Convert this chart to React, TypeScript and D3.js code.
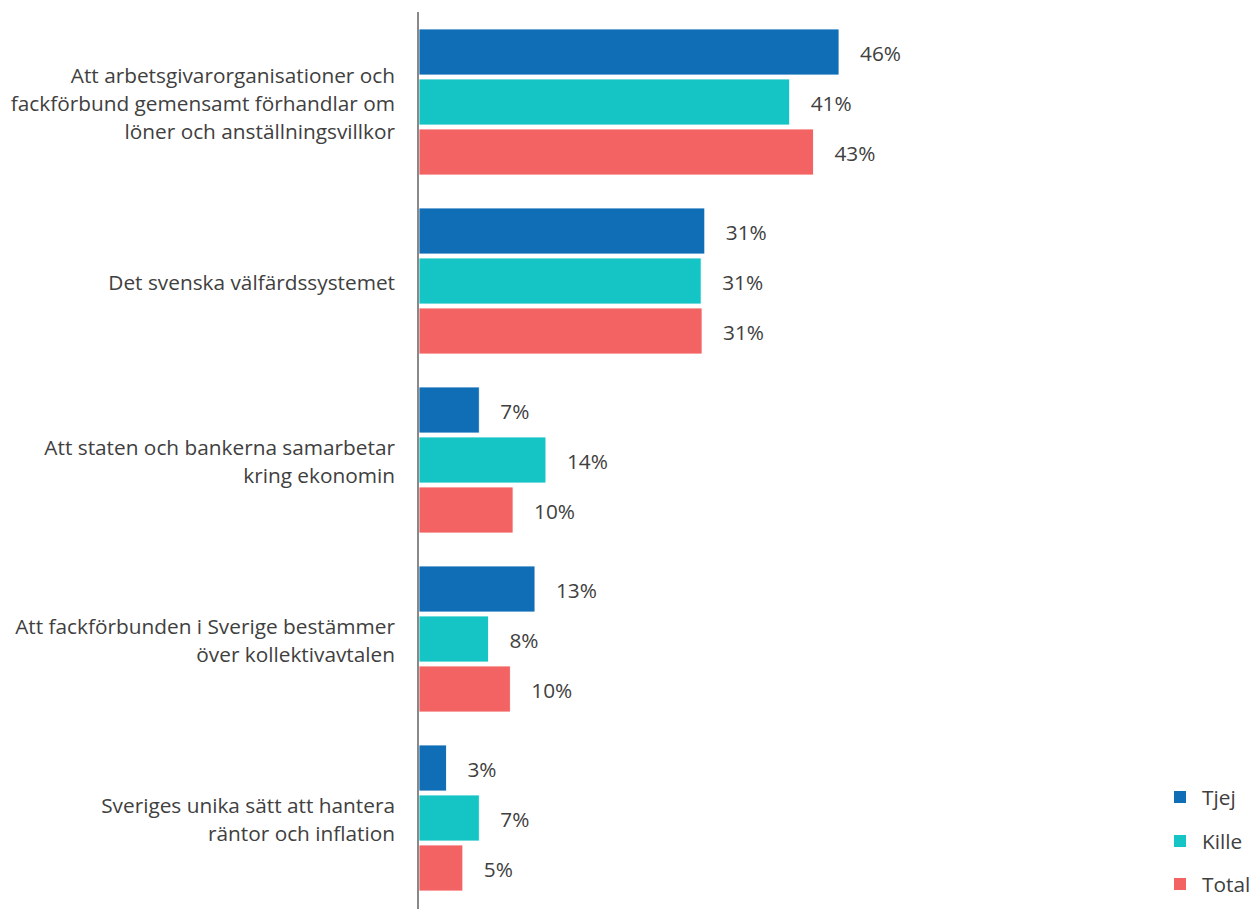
import React from "react";
import * as d3 from "d3";

const categories = [
  ["Att arbetsgivarorganisationer och", "fackförbund gemensamt förhandlar om", "löner och anställningsvillkor"],
  ["Det svenska välfärdssystemet"],
  ["Att staten och bankerna samarbetar", "kring ekonomin"],
  ["Att fackförbunden i Sverige bestämmer", "över kollektivavtalen"],
  ["Sveriges unika sätt att hantera", "räntor och inflation"],
];
const seriesNames = ["Tjej", "Kille", "Total"];
const tjej = [46.0, 31.3, 6.6, 12.7, 3.0];
const kille = [40.6, 30.9, 13.9, 7.6, 6.6];
const total = [43.2, 31.0, 10.3, 10.0, 4.8];
const colors = ["#106EB7", "#15C5C5", "#F46363"];

const W = 1253;
const H = 909;
const font = "'Open Sans', sans-serif";
const fs = 20.8;
const textColor = "#404040";

export default function App() {
  const series = [tjej, kille, total];
  const x0 = 419;
  const x = d3.scaleLinear().domain([0, 46]).range([x0, 839]);
  const y = d3
    .scaleBand<number>()
    .domain(categories.map((_, i) => i))
    .range([12.5, 907.5])
    .paddingInner(33 / 179)
    .paddingOuter(16.5 / 179);
  const yi = d3
    .scaleBand<number>()
    .domain([0, 1, 2])
    .range([0, y.bandwidth()])
    .paddingInner(0.08);
  const fmt = (v: number) => `${Math.round(v)}%`;
  const lineH = 28;
  return (
    <svg width={W} height={H} style={{ position: "absolute", left: 0, top: 0 }}>
      <rect width={W} height={H} fill="#fff" />
      {categories.map((lines, ci) => {
        const cy = (y(ci) as number) + y.bandwidth() / 2;
        return (
          <g key={ci}>
            {lines.map((ln, li) => (
              <text
                key={li}
                x={395}
                y={cy + 0.5 + (li - (lines.length - 1) / 2) * lineH}
                textAnchor="end"
                dominantBaseline="central"
                fontFamily={font}
                fontSize={fs}
                fill={textColor}
              >
                {ln}
              </text>
            ))}
            {series.map((s, si) => {
              const by = (y(ci) as number) + (yi(si) as number);
              return (
                <g key={si}>
                  <rect
                    x={x(0)}
                    y={by}
                    width={x(s[ci]) - x(0)}
                    height={yi.bandwidth()}
                    fill={colors[si]}
                    stroke="#fff"
                    strokeWidth={0.8}
                  />
                  <text
                    x={x(s[ci]) + 21}
                    y={by + yi.bandwidth() / 2 + 1}
                    dominantBaseline="central"
                    fontFamily={font}
                    fontSize={fs}
                    fill={textColor}
                  >
                    {fmt(s[ci])}
                  </text>
                </g>
              );
            })}
          </g>
        );
      })}
      <line x1={418} x2={418} y1={12} y2={H} stroke="#898989" strokeWidth={2} />
      {seriesNames.map((n, i) => {
        const ly = [797, 841, 884][i];
        return (
          <g key={n}>
            <rect x={1174} y={ly - 6} width={12} height={12} fill={colors[i]} />
            <text
              x={1202}
              y={ly}
              dominantBaseline="central"
              fontFamily={font}
              fontSize={fs}
              fill={textColor}
            >
              {n}
            </text>
          </g>
        );
      })}
    </svg>
  );
}
